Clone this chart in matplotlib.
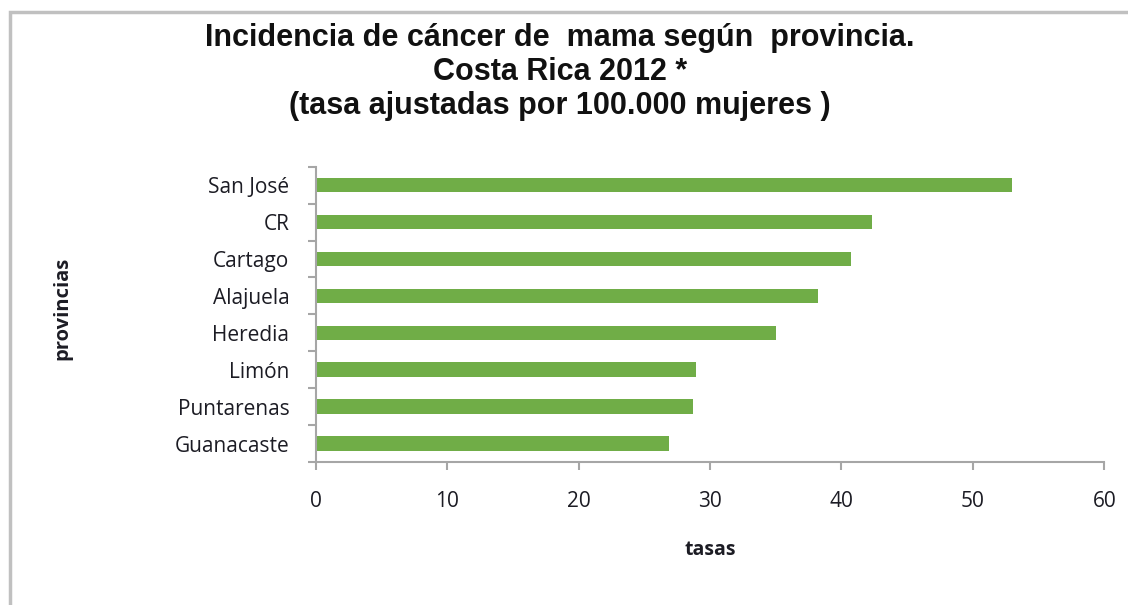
import matplotlib.pyplot as plt
from matplotlib.patches import Rectangle
from matplotlib.ticker import FixedLocator

provincias = ["San José", "CR", "Cartago", "Alajuela", "Heredia", "Limón", "Puntarenas", "Guanacaste"]
tasas = [53.0, 42.3, 40.7, 38.2, 35.0, 28.9, 28.7, 26.9]
x_ticks = [0, 10, 20, 30, 40, 50, 60]

titulo = ("Incidencia de cáncer de  mama según  provincia.\n"
          "Costa Rica 2012 *\n"
          "(tasa ajustadas por 100.000 mujeres )")

BAR_COLOR = "#70AD47"
TEXT_COLOR = "#1C1C24"
AXIS_COLOR = "#A6A6A6"
TICK_FONT = "Open Sans"


def main():
    fig = plt.figure(figsize=(11.28, 6.05), dpi=100)
    ax = fig.add_axes([0.2799, 0.2364, 0.6991, 0.4881])

    # outer chart border, cut off at the right and bottom like the source
    fig.patches.append(Rectangle((9.5 / 1128, -0.05), 1.2, (605 - 11.5) / 605 + 0.05,
                                 transform=fig.transFigure, fill=False,
                                 edgecolor="#C0C0C0", linewidth=2.5))

    ypos = list(range(len(provincias)))
    ax.barh(ypos, tasas, height=0.39, color=BAR_COLOR)
    ax.set_ylim(len(provincias) - 0.5, -0.5)
    ax.set_xlim(0, 60)

    ax.set_yticks(ypos)
    ax.set_yticklabels(provincias, fontfamily=TICK_FONT, fontsize=15, color=TEXT_COLOR)
    ax.yaxis.set_minor_locator(FixedLocator([i - 0.5 for i in range(len(provincias) + 1)]))
    ax.tick_params(axis="y", which="major", length=0, pad=19)
    ax.tick_params(axis="y", which="minor", length=6, width=1.5, color=AXIS_COLOR, direction="out")

    ax.set_xticks(x_ticks)
    ax.set_xticklabels([str(v) for v in x_ticks], fontfamily=TICK_FONT, fontsize=15, color=TEXT_COLOR)
    ax.tick_params(axis="x", length=6, width=1.5, color=AXIS_COLOR, pad=15)

    for side in ["top", "right"]:
        ax.spines[side].set_visible(False)
    for side in ["left", "bottom"]:
        ax.spines[side].set_color(AXIS_COLOR)
        ax.spines[side].set_linewidth(1.5)

    ax.set_xlabel("tasas", fontfamily=TICK_FONT, fontsize=14, fontweight="bold",
                  color=TEXT_COLOR, labelpad=20)
    fig.text(62 / 1128, 1 - 308 / 605, "provincias", rotation=90, ha="center", va="center",
             fontfamily=TICK_FONT, fontsize=14.5, fontweight="bold", color=TEXT_COLOR)

    fig.text(560 / 1128, 1 - 72 / 605, titulo, ha="center", va="center", linespacing=1.17,
             fontfamily="Liberation Sans", fontsize=22, fontweight="bold", color="#111111")

    fig.savefig("out.png", dpi=100)
    plt.close(fig)


if __name__ == "__main__":
    main()
